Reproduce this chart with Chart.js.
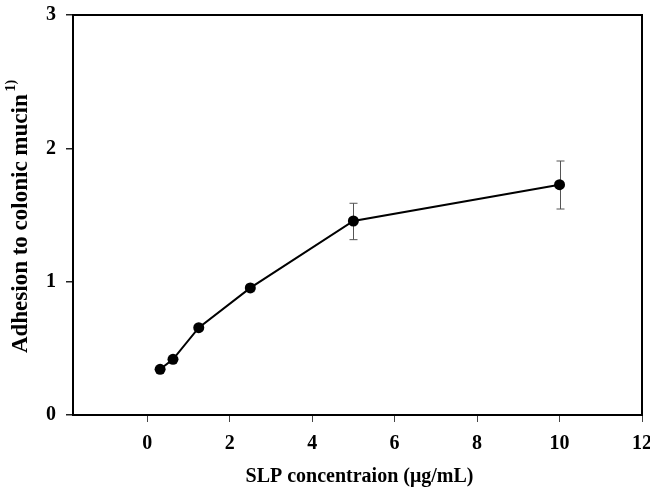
<!DOCTYPE html>
<html>
<head>
<meta charset="utf-8">
<script src="https://cdn.jsdelivr.net/npm/chart.js@4/dist/chart.umd.min.js"></script>
<style>
html,body{margin:0;padding:0;background:#fff;}
#wrap{width:650px;height:489px;position:relative;}
</style>
</head>
<body>
<div id="wrap"><canvas id="c" width="650" height="489"></canvas></div>
<script>
const concentrations = [0.3125, 0.625, 1.25, 2.5, 5, 10];
const adhesion = [0.343, 0.418, 0.655, 0.953, 1.455, 1.727];
const errLow = [0.343, 0.418, 0.655, 0.925, 1.315, 1.545];
const errHigh = [0.343, 0.418, 0.655, 0.98, 1.588, 1.905];
const xTicks = [0, 2, 4, 6, 8, 10, 12];
const yTicks = [0, 1, 2, 3];
const xTitle = 'SLP concentraion (\u03bcg/mL)';
const yTitle = 'Adhesion to colonic mucin';
const ySup = '1)';

const FONT = '"Liberation Serif", "Times New Roman", serif';

const boxPlugin = {
  id: 'box',
  afterDraw(chart) {
    const {ctx, chartArea: a} = chart;
    ctx.save();
    ctx.strokeStyle = '#000';
    ctx.lineWidth = 2;
    ctx.strokeRect(a.left, a.top, a.right - a.left, a.bottom - a.top);
    // x title
    ctx.fillStyle = '#000';
    ctx.font = 'bold 20px ' + FONT;
    ctx.textAlign = 'center';
    ctx.textBaseline = 'middle';
    ctx.fillText(xTitle, (a.left + a.right) / 2 + 2, 477);
    // y title with superscript
    ctx.translate(21, (a.top + a.bottom) / 2);
    ctx.rotate(-Math.PI / 2);
    ctx.font = 'bold 23px ' + FONT;
    const w1 = ctx.measureText(yTitle + ' ').width;
    ctx.font = 'bold 14px ' + FONT;
    const w2 = ctx.measureText(ySup).width;
    const start = -(w1 + w2) / 2;
    ctx.textAlign = 'left';
    ctx.font = 'bold 23px ' + FONT;
    ctx.fillText(yTitle, start, 0);
    ctx.font = 'bold 14px ' + FONT;
    ctx.fillText(ySup, start + w1 - 3, -10);
    ctx.restore();
  }
};

const errPlugin = {
  id: 'errbars',
  beforeDatasetsDraw(chart) {
    const {ctx, scales: {x, y}} = chart;
    ctx.save();
    ctx.strokeStyle = '#555';
    ctx.lineWidth = 1;
    for (let i = 0; i < concentrations.length; i++) {
      if (errHigh[i] - errLow[i] < 0.001) continue;
      const px = Math.round(x.getPixelForValue(concentrations[i])) + 0.5;
      const yt = y.getPixelForValue(errHigh[i]);
      const yb = y.getPixelForValue(errLow[i]);
      ctx.beginPath();
      ctx.moveTo(px, yt); ctx.lineTo(px, yb);
      ctx.moveTo(px - 4, yt); ctx.lineTo(px + 4, yt);
      ctx.moveTo(px - 4, yb); ctx.lineTo(px + 4, yb);
      ctx.stroke();
    }
    ctx.restore();
  }
};

new Chart(document.getElementById('c'), {
  type: 'scatter',
  data: {
    datasets: [{
      data: concentrations.map((c, i) => ({x: c, y: adhesion[i]})),
      showLine: true,
      borderColor: '#000',
      borderWidth: 2,
      backgroundColor: '#000',
      pointBackgroundColor: '#000',
      pointBorderColor: '#000',
      pointRadius: 5.5,
      pointBorderWidth: 0,
      tension: 0
    }]
  },
  options: {
    responsive: false,
    animation: false,
    layout: {padding: {top: 15, right: 8, left: 0, bottom: 0}},
    plugins: {legend: {display: false}, tooltip: {enabled: false}},
    scales: {
      x: {
        type: 'linear',
        min: -1.8,
        max: 12,
        afterBuildTicks(s) { s.ticks = xTicks.map(v => ({value: v})); },
        afterFit(s) { s.height = 74; s.paddingLeft = 0; s.paddingRight = 0; },
        border: {display: false},
        grid: {drawOnChartArea: false, drawTicks: true, tickLength: 7, color: '#444', lineWidth: 1},
        ticks: {color: '#000', font: {family: FONT, size: 20, weight: 'bold'}, padding: 10, maxRotation: 0}
      },
      y: {
        type: 'linear',
        min: 0,
        max: 3,
        afterBuildTicks(s) { s.ticks = yTicks.map(v => ({value: v})); },
        afterFit(s) { s.width = 73; s.paddingTop = 0; s.paddingBottom = 0; },
        border: {display: false},
        grid: {drawOnChartArea: false, drawTicks: true, tickLength: 7, color: '#222', lineWidth: 1.5},
        ticks: {color: '#000', font: {family: FONT, size: 20, weight: 'bold'}, padding: 10}
      }
    }
  },
  plugins: [errPlugin, boxPlugin]
});
</script>
</body>
</html>
